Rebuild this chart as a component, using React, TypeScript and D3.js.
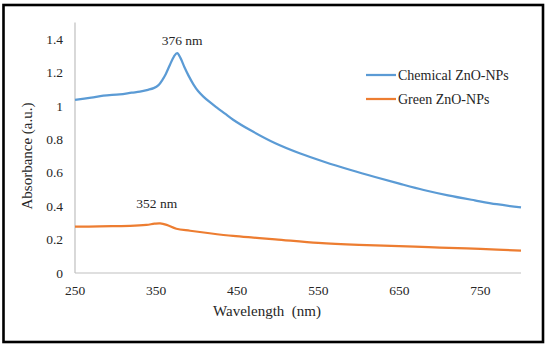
import React from "react";
import * as d3 from "d3";

const chemWl = [250, 270, 285, 305, 320, 330, 340, 347, 353, 358, 362, 367, 372, 376, 380, 385, 390, 396, 402, 408, 416, 425, 435, 445, 466, 497, 527, 558, 590, 620, 650, 680, 710, 743, 770, 800];
const chemAbs = [1.036, 1.05, 1.062, 1.07, 1.08, 1.086, 1.097, 1.107, 1.125, 1.158, 1.192, 1.246, 1.296, 1.316, 1.288, 1.232, 1.182, 1.13, 1.088, 1.058, 1.024, 0.99, 0.954, 0.918, 0.856, 0.777, 0.717, 0.665, 0.617, 0.575, 0.535, 0.497, 0.465, 0.435, 0.412, 0.393];
const greenWl = [250, 280, 300, 318, 338, 348, 355, 363, 375, 392, 416, 445, 470, 497, 550, 600, 669, 700, 750, 800];
const greenAbs = [0.277, 0.279, 0.281, 0.282, 0.288, 0.295, 0.297, 0.288, 0.265, 0.253, 0.238, 0.222, 0.212, 0.202, 0.18, 0.168, 0.158, 0.152, 0.144, 0.134];
const xTicks = [250, 350, 450, 550, 650, 750];
const yTicks = [0, 0.2, 0.4, 0.6, 0.8, 1, 1.2, 1.4];
const seriesNames = ["Chemical ZnO-NPs", "Green ZnO-NPs"];
const seriesColors = ["#5B9BD5", "#ED7D31"];
const peakLabels = [
  { wl: 376, abs: 1.316, text: "376 nm" },
  { wl: 352, abs: 0.297, text: "352 nm" },
];

export default function App() {
  const W = 550, H = 347;
  const x = d3.scaleLinear().domain([250, 800]).range([75, 521]);
  const y = d3.scaleLinear().domain([0, 1.5]).range([273, 22.5]);
  const line = d3
    .line<[number, number]>()
    .x((d) => x(d[0]))
    .y((d) => y(d[1]))
    .curve(d3.curveCatmullRom.alpha(0.5));
  const chem = chemWl.map((w, i) => [w, chemAbs[i]] as [number, number]);
  const green = greenWl.map((w, i) => [w, greenAbs[i]] as [number, number]);
  const ff = { fontFamily: "'Liberation Serif', 'DejaVu Serif', 'Times New Roman', serif" };
  const txt = "#262626";
  const fmt = (v: number) => (v === 0 || v === 1 ? String(v) : v.toFixed(1));
  return (
    <svg width={W} height={H} style={{ position: "absolute", left: 0, top: 0 }}>
      <rect x={0} y={0} width={W} height={H} fill="#fff" />
      <rect x={3.5} y={5} width={539.5} height={337} fill="none" stroke="#000" strokeWidth={2.6} />
      <line x1={x(250)} x2={x(250)} y1={y(1.5)} y2={y(0)} stroke="#BFBFBF" strokeWidth={1.2} />
      <line x1={x(250)} x2={x(800)} y1={y(0)} y2={y(0)} stroke="#BFBFBF" strokeWidth={1.2} />
      {yTicks.map((t) => (
        <text key={t} x={63} y={y(t) + 4.5} textAnchor="end" fontSize={13.5} fill={txt} style={ff}>
          {fmt(t)}
        </text>
      ))}
      {xTicks.map((t) => (
        <text key={t} x={x(t)} y={295} textAnchor="middle" fontSize={13.5} fill={txt} style={ff}>
          {t}
        </text>
      ))}
      <text x={267} y={316} textAnchor="middle" fontSize={15} fill={txt} style={{ ...ff, whiteSpace: "pre" }}>
        {"Wavelength  (nm)"}
      </text>
      <text transform="translate(32,156) rotate(-90)" textAnchor="middle" fontSize={15} fill={txt} style={ff}>
        Absorbance (a.u.)
      </text>
      <path d={line(green) || ""} fill="none" stroke={seriesColors[1]} strokeWidth={2.25} strokeLinejoin="round" />
      <path d={line(chem) || ""} fill="none" stroke={seriesColors[0]} strokeWidth={2.25} strokeLinejoin="round" />
      <text x={x(peakLabels[0].wl) + 5} y={y(peakLabels[0].abs) - 8} textAnchor="middle" fontSize={13.5} fill={txt} style={ff}>
        {peakLabels[0].text}
      </text>
      <text x={x(peakLabels[1].wl) - 1} y={y(peakLabels[1].abs) - 15} textAnchor="middle" fontSize={13.5} fill={txt} style={ff}>
        {peakLabels[1].text}
      </text>
      {seriesNames.map((n, i) => (
        <g key={n}>
          <line x1={366} x2={396} y1={75 + i * 24} y2={75 + i * 24} stroke={seriesColors[i]} strokeWidth={2.25} />
          <text x={398} y={80 + i * 24} fontSize={14} fill={txt} style={ff}>
            {n}
          </text>
        </g>
      ))}
    </svg>
  );
}
